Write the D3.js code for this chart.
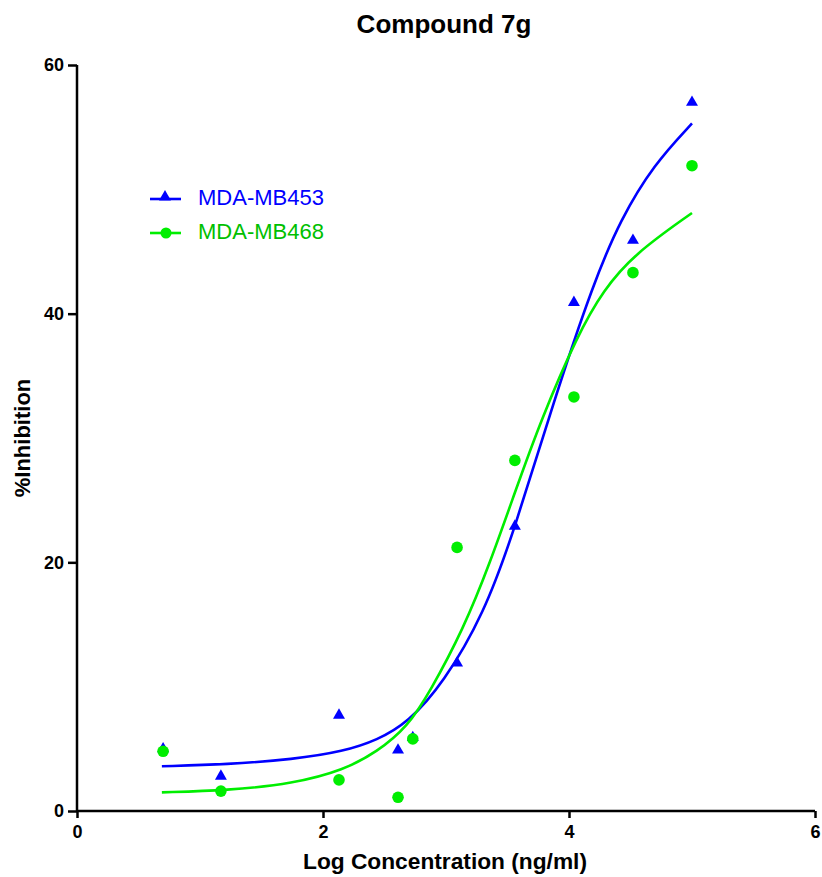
<!DOCTYPE html>
<html>
<head>
<meta charset="utf-8">
<script src="https://cdn.jsdelivr.net/npm/d3@7"></script>
<style>
  body { margin: 0; background: #fff; }
  svg text { font-family: "Liberation Sans", Arial, sans-serif; }
</style>
</head>
<body>
<div id="chart"></div>
<script>
// --- data ---
const logConc = [0.70, 1.17, 2.13, 2.61, 2.73, 3.09, 3.56, 4.04, 4.52, 5.00];
const mb453 = [5.0, 2.8, 7.7, 4.9, 5.9, 11.9, 22.9, 40.9, 45.9, 57.0];
const mb468 = [4.8, 1.6, 2.5, 1.1, 5.8, 21.2, 28.2, 33.3, 43.3, 51.9];

// fitted curves
const fit453X = [0.69, 1.22, 1.76, 2.17, 2.44, 2.69, 2.98, 3.31, 3.55, 3.88, 4.20, 4.42, 4.69, 5.00];
const fit453Y = [3.6, 3.75, 4.15, 4.8, 5.7, 7.1, 10.3, 15.9, 22.4, 33.1, 42.5, 47.6, 52.0, 55.3];
const fit468X = [0.69, 1.22, 1.76, 2.17, 2.44, 2.69, 2.87, 3.14, 3.36, 3.57, 3.77, 4.07, 4.28, 4.53, 5.00];
const fit468Y = [1.5, 1.65, 2.2, 3.3, 4.75, 6.8, 9.6, 14.6, 20.0, 25.9, 31.4, 38.3, 41.9, 44.8, 48.1];

const xTicks = [0, 2, 4, 6];
const yTicks = [0, 20, 40, 60];

const seriesNames = ["MDA-MB453", "MDA-MB468"];

// --- layout ---
const W = 822, H = 877;
const margin = { left: 77, right: 7, top: 65, bottom: 66 };
const blue = "#0000ff", green = "#00ee00", greenText = "#00c000";

const svg = d3.select("#chart").append("svg")
  .attr("width", W).attr("height", H);

const x = d3.scaleLinear().domain([0, 6]).range([margin.left, W - margin.right]);
const y = d3.scaleLinear().domain([0, 60]).range([H - margin.bottom, margin.top]);

// axes
const xAxis = svg.append("g")
  .attr("transform", `translate(0,${y(0)})`)
  .call(d3.axisBottom(x).tickValues(xTicks).tickFormat(d3.format("d")).tickSize(7).tickPadding(7));
const yAxis = svg.append("g")
  .attr("transform", `translate(${x(0)},0)`)
  .call(d3.axisLeft(y).tickValues(yTicks).tickFormat(d3.format("d")).tickSize(9).tickPadding(4));

[xAxis, yAxis].forEach(a => {
  a.select(".domain").attr("stroke", "#000").attr("stroke-width", 2.5);
  a.selectAll(".tick line").attr("stroke", "#000").attr("stroke-width", 2.5);
  a.selectAll(".tick text")
    .attr("fill", "#000")
    .attr("font-size", 18)
    .attr("font-weight", "bold");
});
// domain paths: drop the outer tick caps
xAxis.select(".domain").attr("d", `M${x(0)},0H${x(6)}`);
yAxis.select(".domain").attr("d", `M0,${y(0)}V${y(60)}`);

// titles
svg.append("text")
  .attr("x", 444).attr("y", 33)
  .attr("text-anchor", "middle")
  .attr("font-size", 26).attr("font-weight", "bold")
  .text("Compound 7g");

svg.append("text")
  .attr("x", 445).attr("y", 869)
  .attr("text-anchor", "middle")
  .attr("font-size", 22).attr("font-weight", "bold")
  .attr("textLength", 284).attr("lengthAdjust", "spacingAndGlyphs")
  .text("Log Concentration (ng/ml)");

svg.append("text")
  .attr("transform", `translate(30,438) rotate(-90)`)
  .attr("text-anchor", "middle")
  .attr("font-size", 22).attr("font-weight", "bold")
  .text("%Inhibition");

// curves
const line = d3.line()
  .x(d => x(d[0])).y(d => y(d[1]))
  .curve(d3.curveBasis);

svg.append("path")
  .datum(d3.zip(fit453X, fit453Y))
  .attr("fill", "none").attr("stroke", blue).attr("stroke-width", 2.6)
  .attr("d", line);
svg.append("path")
  .datum(d3.zip(fit468X, fit468Y))
  .attr("fill", "none").attr("stroke", green).attr("stroke-width", 2.6)
  .attr("d", line);

// points
const tri = d3.symbol().type(d3.symbolTriangle).size(62);

svg.append("g").selectAll("path")
  .data(d3.zip(logConc, mb453))
  .join("path")
  .attr("transform", d => `translate(${x(d[0])},${y(d[1])})`)
  .attr("d", tri)
  .attr("fill", blue);

svg.append("g").selectAll("circle")
  .data(d3.zip(logConc, mb468))
  .join("circle")
  .attr("cx", d => x(d[0])).attr("cy", d => y(d[1]))
  .attr("r", 5.8)
  .attr("fill", green);

// legend
const legend = svg.append("g");
const legendRows = [
  { name: seriesNames[0], color: blue, text: blue, sym: "tri", yy: 199 },
  { name: seriesNames[1], color: green, text: greenText, sym: "circle", yy: 233 }
];
legendRows.forEach(r => {
  legend.append("line")
    .attr("x1", 150).attr("x2", 181).attr("y1", r.yy).attr("y2", r.yy)
    .attr("stroke", r.color).attr("stroke-width", 2.6);
  if (r.sym === "tri") {
    legend.append("path")
      .attr("transform", `translate(165,${r.yy - 2})`)
      .attr("d", tri).attr("fill", r.color);
  } else {
    legend.append("circle")
      .attr("cx", 166).attr("cy", r.yy).attr("r", 5.5).attr("fill", r.color);
  }
  legend.append("text")
    .attr("x", 198).attr("y", r.yy + 6)
    .attr("font-size", 22)
    .attr("fill", r.text)
    .text(r.name);
});
</script>
</body>
</html>
